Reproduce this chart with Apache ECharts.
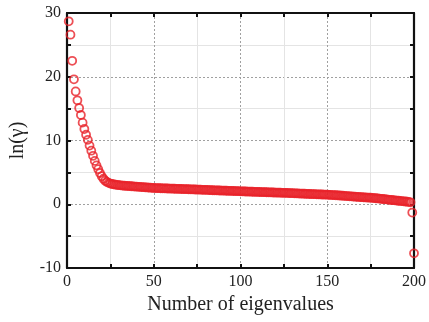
<!DOCTYPE html>
<html>
<head>
<meta charset="utf-8">
<script src="https://cdn.jsdelivr.net/npm/echarts@6/dist/echarts.min.js"></script>
<style>
  html, body { margin: 0; padding: 0; background: #fff; }
  #chart { width: 429px; height: 322px; }
</style>
</head>
<body>
<div id="chart"></div>
<script>
// Eigenvalue index (1..200) and ln(gamma) of each eigenvalue, sorted descending
const lnGamma = [
  28.7, 26.6, 22.5, 19.6, 17.7, 16.3, 15.1, 14.0, 12.8, 11.8,
  10.9, 10.1, 9.2, 8.4, 7.6, 6.8, 6.1, 5.5, 4.9, 4.4,
  4.0, 3.7, 3.5, 3.35, 3.25, 3.18, 3.12, 3.07, 3.03, 2.99,
  2.96, 2.93, 2.90, 2.88, 2.86, 2.84, 2.82, 2.80, 2.78, 2.76,
  2.74, 2.72, 2.70, 2.68, 2.66, 2.64, 2.62, 2.60, 2.58, 2.56,
  2.54, 2.53, 2.52, 2.51, 2.50, 2.49, 2.48, 2.47, 2.46, 2.45,
  2.44, 2.43, 2.42, 2.41, 2.40, 2.39, 2.38, 2.37, 2.36, 2.35,
  2.34, 2.33, 2.32, 2.31, 2.30, 2.29, 2.28, 2.27, 2.26, 2.25,
  2.24, 2.22, 2.21, 2.20, 2.19, 2.18, 2.17, 2.16, 2.15, 2.14,
  2.13, 2.12, 2.11, 2.10, 2.09, 2.08, 2.07, 2.06, 2.05, 2.03,
  2.02, 2.01, 2.00, 1.99, 1.98, 1.97, 1.96, 1.95, 1.94, 1.93,
  1.92, 1.91, 1.90, 1.89, 1.88, 1.87, 1.86, 1.85, 1.84, 1.83,
  1.82, 1.81, 1.81, 1.80, 1.79, 1.78, 1.77, 1.76, 1.74, 1.73,
  1.72, 1.71, 1.70, 1.68, 1.67, 1.66, 1.65, 1.64, 1.62, 1.61,
  1.60, 1.59, 1.58, 1.56, 1.55, 1.54, 1.53, 1.52, 1.51, 1.50,
  1.48, 1.46, 1.44, 1.43, 1.41, 1.39, 1.37, 1.35, 1.33, 1.31,
  1.29, 1.27, 1.25, 1.23, 1.21, 1.19, 1.17, 1.15, 1.13, 1.11,
  1.09, 1.07, 1.05, 1.04, 1.02, 1.00, 0.97, 0.94, 0.91, 0.88,
  0.85, 0.82, 0.79, 0.76, 0.73, 0.70, 0.67, 0.64, 0.61, 0.58,
  0.55, 0.52, 0.49, 0.46, 0.43, 0.40, 0.36, 0.30, -1.3, -7.7
];
const eigenIndex = lnGamma.map((_, i) => i + 1);

const xTicks = [0, 50, 100, 150, 200];
const yTicks = [-10, 0, 10, 20, 30];

const serif = "'Liberation Serif', 'Times New Roman', serif";
const points = eigenIndex.map((x, i) => [x, lnGamma[i]]);

const boxLine = { show: true, onZero: false, lineStyle: { color: '#111', width: 2.2 } };
const tickIn = { show: true, inside: true, length: 4, lineStyle: { color: '#111', width: 2 } };
const minorIn = { show: true, splitNumber: 2, length: 4, lineStyle: { color: '#111', width: 2 } };

const chart = echarts.init(document.getElementById('chart'), null, { renderer: 'canvas' });
chart.setOption({
  animation: false,
  backgroundColor: '#fff',
  grid: { left: 62, right: 12, top: 13, bottom: 54, containLabel: false },
  xAxis: [
    {
      type: 'value', min: xTicks[0], max: xTicks[xTicks.length - 1], interval: 50,
      position: 'bottom',
      name: 'Number of eigenvalues', nameLocation: 'middle', nameGap: 27,
      nameTextStyle: { fontFamily: serif, fontSize: 20, color: '#222' },
      axisLine: boxLine, axisTick: tickIn, minorTick: minorIn,
      axisLabel: { fontFamily: serif, fontSize: 16, color: '#222', margin: 6 },
      splitLine: { show: true, lineStyle: { color: '#a0a0a0', type: [2, 2], width: 1 } },
      minorSplitLine: { show: true, lineStyle: { color: '#e4e4e4', width: 1 } }
    },
    {
      type: 'value', min: xTicks[0], max: xTicks[xTicks.length - 1], interval: 50,
      position: 'top',
      axisLine: boxLine, axisTick: tickIn, minorTick: minorIn,
      axisLabel: { show: false }, splitLine: { show: false }
    }
  ],
  yAxis: [
    {
      type: 'value', min: yTicks[0], max: yTicks[yTicks.length - 1], interval: 10,
      position: 'left',
      name: 'ln(γ)', nameLocation: 'middle', nameGap: 39, nameRotate: 90,
      nameTextStyle: { fontFamily: serif, fontSize: 20, color: '#222' },
      axisLine: boxLine, axisTick: tickIn, minorTick: minorIn,
      axisLabel: { fontFamily: serif, fontSize: 16, color: '#222', margin: 6 },
      splitLine: { show: true, lineStyle: { color: '#a0a0a0', type: [2, 2], width: 1 } },
      minorSplitLine: { show: true, lineStyle: { color: '#e4e4e4', width: 1 } }
    },
    {
      type: 'value', min: yTicks[0], max: yTicks[yTicks.length - 1], interval: 10,
      position: 'right',
      axisLine: boxLine, axisTick: tickIn, minorTick: minorIn,
      axisLabel: { show: false }, splitLine: { show: false }
    }
  ],
  series: [
    {
      type: 'scatter',
      xAxisIndex: 0, yAxisIndex: 0,
      data: points,
      symbol: 'circle',
      symbolSize: 8,
      itemStyle: { color: 'rgba(0,0,0,0)', borderColor: '#e8232a', borderWidth: 1.8 },
      emphasis: { disabled: true }
    }
  ]
});
</script>
</body>
</html>
